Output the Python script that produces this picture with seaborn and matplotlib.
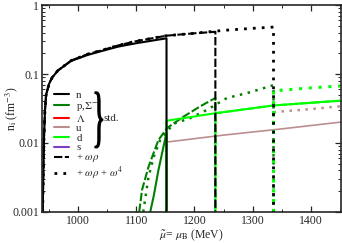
import numpy as np
import pandas as pd
import matplotlib
matplotlib.use("Agg")
import matplotlib.pyplot as plt
import matplotlib.ticker as mticker
from matplotlib.lines import Line2D
from matplotlib.textpath import TextPath
from matplotlib.patches import PathPatch
from matplotlib.font_manager import FontProperties
from matplotlib.transforms import Affine2D
import seaborn as sns

# ---- data (mu in MeV, densities in fm^-3) ----
# neutron, std
mu_n_std = [939, 940, 941, 943, 945, 950, 955, 965, 988, 1017, 1040, 1069, 1100, 1152, 1152]
n_std = [0.001, 0.003, 0.01, 0.03, 0.05, 0.072, 0.088, 0.112, 0.155, 0.19, 0.215, 0.25, 0.28, 0.33, 0.001]
# neutron, + omega rho
mu_n_wr = [939, 940, 941, 943, 945, 950, 955, 965, 988, 1017, 1040, 1069, 1100, 1152, 1200, 1236, 1236]
n_wr = [0.001, 0.003, 0.01, 0.03, 0.05, 0.072, 0.088, 0.112, 0.157, 0.195, 0.22, 0.26, 0.3, 0.36, 0.39, 0.41, 0.001]
# neutron, + omega rho + omega^4
mu_n_w4 = [939, 940, 941, 943, 945, 950, 955, 965, 988, 1017, 1040, 1069, 1100, 1152, 1200, 1250, 1300, 1336, 1336]
n_w4 = [0.001, 0.003, 0.01, 0.03, 0.05, 0.072, 0.088, 0.112, 0.157, 0.195, 0.22, 0.26, 0.3, 0.36, 0.39, 0.43, 0.46, 0.48, 0.001]

# proton (p, Sigma-)
mu_p_std = [1124, 1130, 1138, 1147, 1152, 1152]
p_std = [0.001, 0.0017, 0.004, 0.009, 0.014, 0.001]
mu_p_wr = [1105, 1110, 1121, 1138, 1153, 1181, 1210, 1236, 1236]
p_wr = [0.001, 0.0021, 0.0045, 0.011, 0.0165, 0.024, 0.034, 0.045, 0.001]
mu_p_w4 = [1112, 1121, 1130, 1141, 1164, 1193, 1221, 1256, 1291, 1336, 1336]
p_w4 = [0.001, 0.0032, 0.0063, 0.011, 0.019, 0.023, 0.03, 0.045, 0.053, 0.069, 0.001]

# d quark
mu_d_std = [1152, 1152, 1236, 1336, 1450]
d_std = [0.001, 0.021, 0.027, 0.035, 0.041]
mu_d_wr = [1236, 1236, 1336, 1450]
d_wr = [0.001, 0.027, 0.035, 0.041]
mu_d_w4 = [1336, 1336, 1400, 1450]
d_w4 = [0.001, 0.057, 0.063, 0.067]

# u quark
mu_u_std = [1152, 1250, 1350, 1450]
u_std = [0.0103, 0.013, 0.016, 0.020]
mu_u_w4 = [1336, 1400, 1450]
u_w4 = [0.028, 0.031, 0.034]

labels = ["n", "p,$\\Sigma^{-}$", "$\\Lambda$", "u", "d", "s",
          "+ $\\omega\\rho$", "+ $\\omega\\rho$ + $\\omega^{4}$"]

c_n = "black"
c_p = "#008000"
c_lam = "#ff0000"
c_u = "#bc8f8f"
c_d = "#00ff00"
c_s = "#7b3fc4"

dash = (0, (4, 1.2))
dot = (0, (1, 2.2))

sns.set_style("ticks")
plt.rcParams['font.family'] = ['Liberation Serif', 'DejaVu Serif']
plt.rcParams['mathtext.fontset'] = 'stix'
plt.rcParams['font.size'] = 8

fig = plt.figure(figsize=(3.42, 2.43), dpi=100)
ax = fig.add_axes([0.123, 0.128, 0.874, 0.851])


def draw(x, y, color, ls='-', lw=1.5):
    sns.lineplot(x=x, y=y, ax=ax, color=color, linestyle=ls, linewidth=lw,
                 estimator=None, sort=False)


draw(mu_u_std, u_std, c_u, lw=1.2)
draw(mu_u_w4, u_w4, c_u, dot, 1.8)
draw(mu_p_std, p_std, c_p)
draw(mu_p_wr, p_wr, c_p, dash)
draw(mu_p_w4, p_w4, c_p, dot, 1.8)
draw(mu_d_std, d_std, c_d)
draw(mu_d_wr, d_wr, c_d, dash)
draw(mu_d_w4, d_w4, c_d, dot, 2.2)
draw(mu_n_std, n_std, c_n)
draw(mu_n_wr, n_wr, c_n, dash)
draw(mu_n_w4, n_w4, c_n, dot, 2.0)

ax.set_yscale('log')
ax.set_xlim(938, 1452)
ax.set_ylim(0.001, 1)
ax.xaxis.set_major_locator(mticker.MultipleLocator(100))
ax.xaxis.set_minor_locator(mticker.MultipleLocator(50))
ax.yaxis.set_major_locator(mticker.FixedLocator([0.001, 0.01, 0.1, 1]))
ax.yaxis.set_major_formatter(mticker.FixedFormatter(["0.001", "0.01", "0.1", "1"]))
ax.yaxis.set_minor_locator(mticker.LogLocator(base=10, subs=np.arange(2, 10)))
ax.yaxis.set_minor_formatter(mticker.NullFormatter())
ax.tick_params(which='both', direction='in', top=True, right=True, labelsize=8.5, pad=2)
ax.tick_params(which='major', length=4, width=0.9)
ax.tick_params(which='minor', length=2, width=0.7)
for sp in ax.spines.values():
    sp.set_linewidth(1.2)

ax.set_xlabel("$\\tilde{\\mu}$= $\\mu_{\\mathrm{B}}$ (MeV)", fontsize=8.5, labelpad=1)
ax.set_ylabel("n$_{\\mathrm{i}}$ (fm$^{-3}$)", fontsize=8.5)
ax.yaxis.set_label_coords(-0.075, 0.5)

handles = [Line2D([], [], color=c_n, lw=1.5),
           Line2D([], [], color=c_p, lw=1.5),
           Line2D([], [], color=c_lam, lw=1.5),
           Line2D([], [], color=c_u, lw=1.5),
           Line2D([], [], color=c_d, lw=1.5),
           Line2D([], [], color=c_s, lw=1.5),
           Line2D([], [], color=c_n, lw=1.5, linestyle=dash),
           Line2D([], [], color=c_n, lw=2.0, linestyle=dot)]
ax.legend(handles, labels, loc='upper left', bbox_to_anchor=(0.027, 0.61),
          frameon=False, fontsize=7.8, handlelength=1.3, handletextpad=0.7,
          labelspacing=0.0, borderaxespad=0)

# curly brace grouping the std. entries
tp = TextPath((0, 0), "}", size=1, prop=FontProperties(family='Liberation Serif'))
bb = tp.get_extents()
x0, x1 = 0.177, 0.203
y0, y1 = 0.31, 0.58
tr = (Affine2D().translate(-bb.x0, -bb.y0)
      .scale((x1 - x0) / bb.width, (y1 - y0) / bb.height)
      .translate(x0, y0) + ax.transAxes)
ax.add_patch(PathPatch(tp, transform=tr, facecolor='black', edgecolor='black', lw=0.9))
ax.text(0.206, 0.452, "std.", transform=ax.transAxes, fontsize=7.8,
        va='center', ha='left')

fig.savefig("out.png", dpi=100)
